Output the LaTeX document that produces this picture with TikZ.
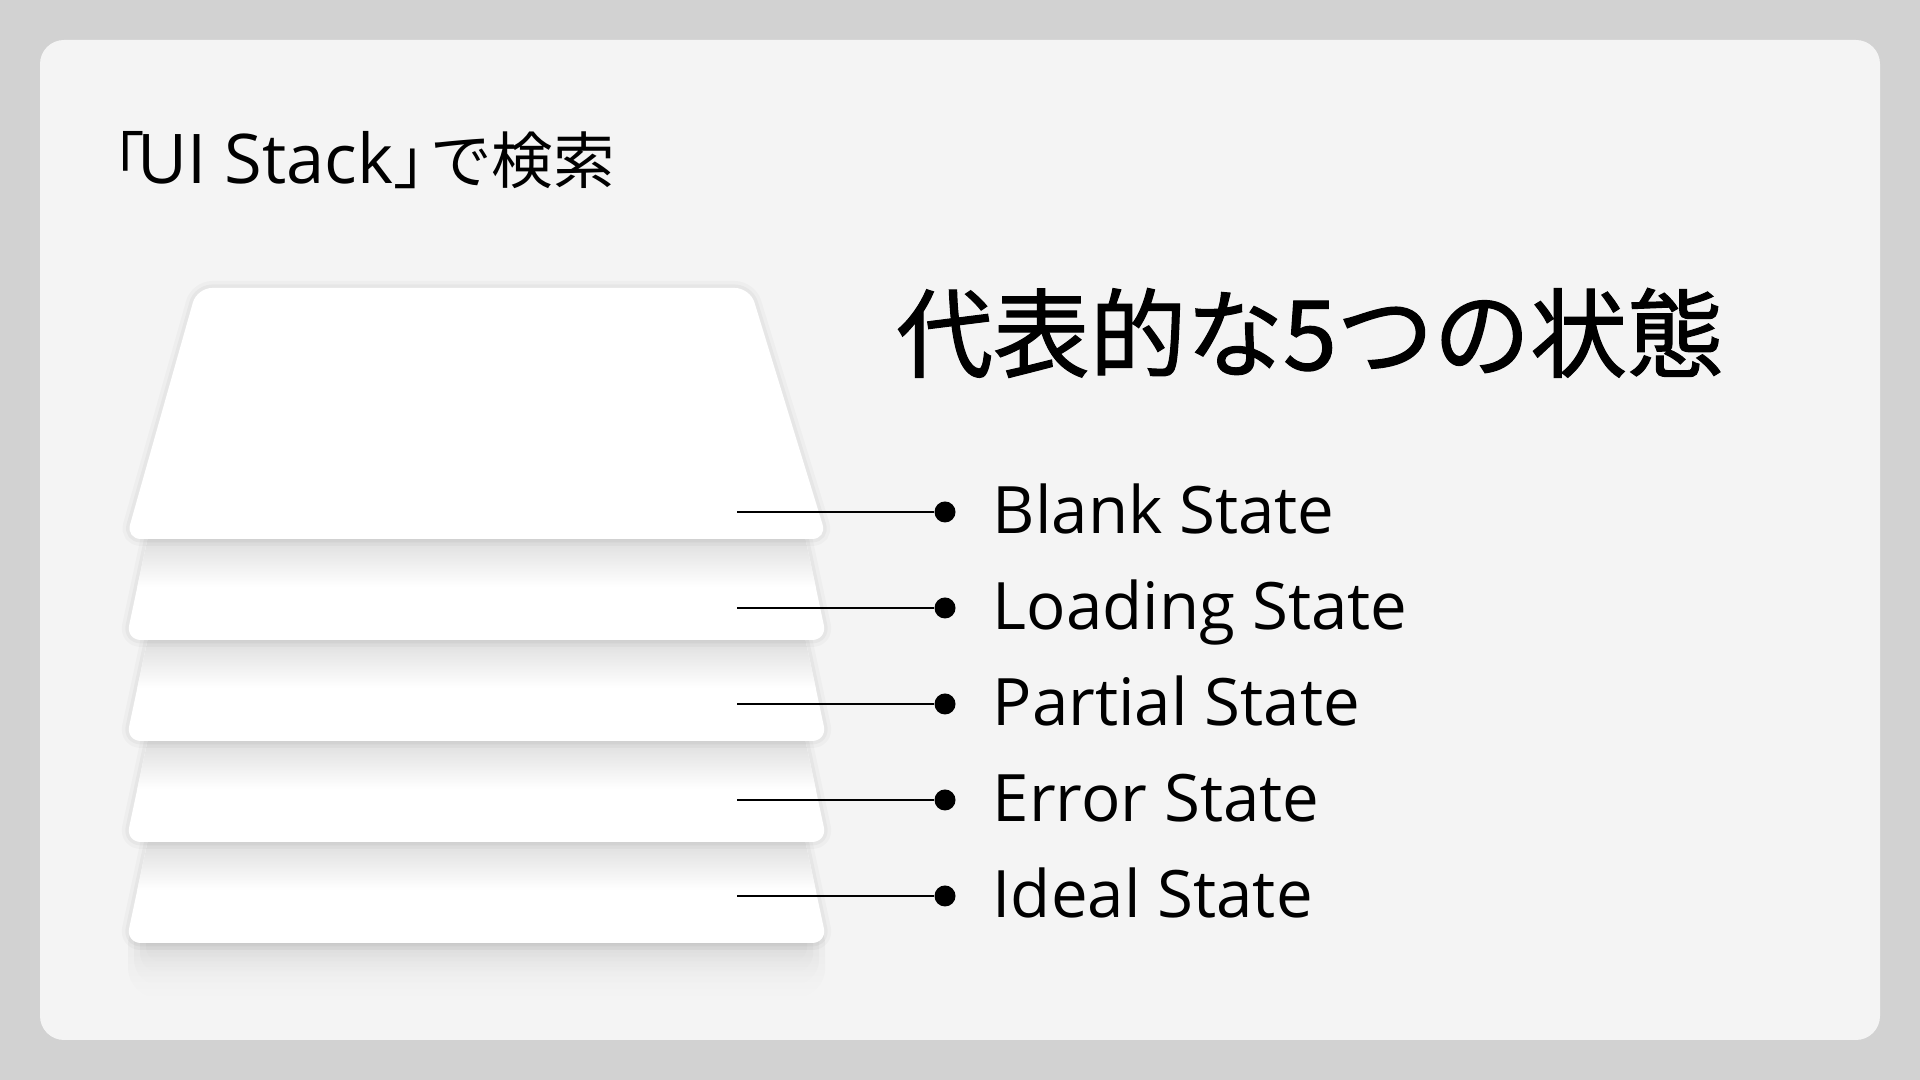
\documentclass[tikz,border=0pt]{standalone}
\usepackage{fontspec}
\setmainfont{Open Sans}
\newfontfamily\jpfont{Noto Sans CJK JP}
\newfontfamily\jpheadfont{Noto Sans CJK JP}[FakeBold=1.2]
\usepackage{tikz}
\usetikzlibrary{fadings}

\definecolor{pagegray}{HTML}{D2D2D2}
\definecolor{cardgray}{HTML}{F4F4F4}

\tikzset{
  layer/.style={fill=white, rounded corners=0.15cm,
    preaction={draw=black, opacity=0.025, line width=0.14cm},
    preaction={draw=black, opacity=0.03, line width=0.07cm}},
  layershade/.style={top color=black!13, bottom color=white},
  groundshadow/.style={fill=black, opacity=0.05, path fading=south},
  dotnode/.style={circle, fill=black, inner sep=0pt, minimum size=0.21cm},
  statelabel/.style={anchor=base west, inner sep=0pt, font=\fontsize{18.6}{22}\selectfont},
  leader/.style={line width=0.75pt},
}

\begin{document}
\begin{tikzpicture}[x=0.01cm, y=-0.01cm]
	\useasboundingbox (0,0) rectangle (1920,1080);
	\fill [pagegray] (0,0) rectangle (1920,1080);
	\fill [cardgray, rounded corners=0.24cm] (40,40) rectangle (1880,1040);
	
	\fill [groundshadow, rounded corners=0.3cm] (128,915) rectangle (825,998);
	\fill [groundshadow, rounded corners=0.25cm] (134,915) rectangle (819,985);
	\fill [groundshadow, rounded corners=0.2cm] (140,915) rectangle (813,973);
	\fill [groundshadow, rounded corners=0.15cm] (146,915) rectangle (807,962);
	
	\fill [layer] (158,793) -- (795,793) -- (827,943) -- (126,943) -- cycle;
	\begin{scope}
		\clip (158,793) -- (795,793) -- (827,943) -- (126,943) -- cycle;
		\shade [layershade] (100,842) rectangle (850,890);
	\end{scope}
	
	\fill [layer] (158,692) -- (795,692) -- (827,842) -- (126,842) -- cycle;
	\begin{scope}
		\clip (158,692) -- (795,692) -- (827,842) -- (126,842) -- cycle;
		\shade [layershade] (100,741) rectangle (850,789);
	\end{scope}
	
	\fill [layer] (158,591) -- (795,591) -- (827,741) -- (126,741) -- cycle;
	\begin{scope}
		\clip (158,591) -- (795,591) -- (827,741) -- (126,741) -- cycle;
		\shade [layershade] (100,640) rectangle (850,688);
	\end{scope}
	
	\fill [layer] (158,490) -- (795,490) -- (827,640) -- (126,640) -- cycle;
	\begin{scope}
		\clip (158,490) -- (795,490) -- (827,640) -- (126,640) -- cycle;
		\shade [layershade] (100,539) rectangle (850,587);
	\end{scope}
	
	\fill [layer] (197,288) -- (750,288) -- (827,539) -- (126,539) -- cycle;
	
	\node [anchor=west, inner sep=0pt, font=\jpfont\fontsize{17.5}{20}\selectfont] (searchnote) at (83,160)
		{「\kern-0.12em{\rmfamily\fontsize{19.5}{20}\selectfont UI Stack}」\kern-0.4emで検索};
	\node [inner sep=0pt, font=\jpheadfont\fontsize{27.5}{32}\selectfont] (heading) at (1310,333) {代表的な5つの状態};
	
	\coordinate (s1) at (737,512);
	\coordinate (s2) at (737,608);
	\coordinate (s3) at (737,704);
	\coordinate (s4) at (737,800);
	\coordinate (s5) at (737,896);
	
	\node [dotnode] (d1) at (945,512) {};
	\node [dotnode] (d2) at (945,608) {};
	\node [dotnode] (d3) at (945,704) {};
	\node [dotnode] (d4) at (945,800) {};
	\node [dotnode] (d5) at (945,896) {};
	
	\draw [leader] (s1) -- (d1);
	\draw [leader] (s2) -- (d2);
	\draw [leader] (s3) -- (d3);
	\draw [leader] (s4) -- (d4);
	\draw [leader] (s5) -- (d5);
	
	\node [statelabel] (blank) at (992,534) {Blank State};
	\node [statelabel] (loading) at (992,630) {Loading State};
	\node [statelabel] (partial) at (992,726) {Partial State};
	\node [statelabel] (error) at (992,822) {Error State};
	\node [statelabel] (ideal) at (992,918) {Ideal State};
\end{tikzpicture}
\end{document}
